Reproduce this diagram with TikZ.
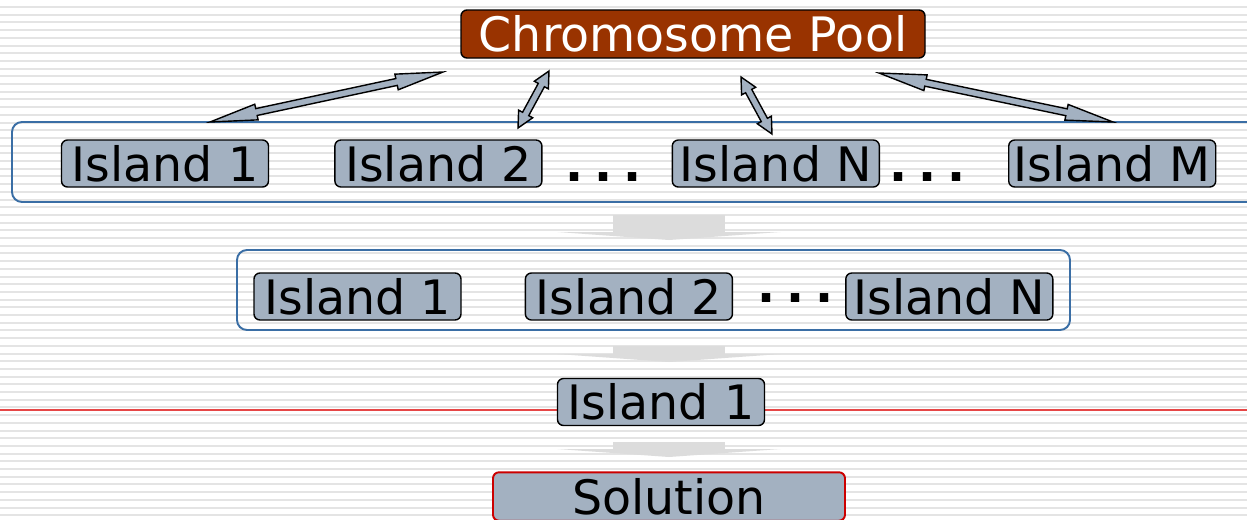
\documentclass[tikz,border=0pt]{standalone}
\usepackage{fontspec}
\setmainfont{DejaVu Sans}
\usetikzlibrary{arrows.meta,positioning,calc}

\definecolor{poolbrown}{RGB}{153,51,0}
\definecolor{islandgray}{RGB}{163,177,193}
\definecolor{frameblue}{RGB}{58,110,165}
\definecolor{solred}{RGB}{204,0,0}
\definecolor{stripegray}{RGB}{228,228,228}
\definecolor{flowgray}{RGB}{220,220,220}
\definecolor{guidered}{RGB}{230,70,70}

% block double arrow from #1 to #2, head length #3
\newcommand{\migrate}[3]{%
  \path (#1) coordinate (ma) (#2) coordinate (mb);
  \path ($(ma)!#3!(mb)$) coordinate (m1) ($(mb)!#3!(ma)$) coordinate (m2);
  \draw[migr] (ma) -- ($(m1)!0.16cm!90:(mb)$) -- ($(m1)!0.07cm!90:(mb)$)
    -- ($(m2)!0.07cm!-90:(ma)$) -- ($(m2)!0.16cm!-90:(ma)$) -- (mb)
    -- ($(m2)!0.16cm!90:(ma)$) -- ($(m2)!0.07cm!90:(ma)$)
    -- ($(m1)!0.07cm!-90:(mb)$) -- ($(m1)!0.16cm!-90:(mb)$) -- cycle;
}

\begin{document}
\begin{tikzpicture}[
  font=\fontsize{27}{32}\selectfont,
  island/.style={rectangle, rounded corners=0.12cm, draw=black, line width=0.8pt, fill=islandgray, inner sep=0.04cm, minimum width=4.14cm, minimum height=0.94cm},
  poolbox/.style={rectangle, rounded corners=0.12cm, draw=black, line width=0.8pt, fill=poolbrown, text=white, inner sep=0.04cm, minimum width=9.28cm, minimum height=0.96cm},
  frame/.style={rectangle, rounded corners=0.2cm, draw=frameblue, line width=1.1pt, minimum height=1.6cm},
  solbox/.style={rectangle, rounded corners=0.12cm, draw=solred, line width=1.1pt, fill=islandgray, minimum width=7.04cm, minimum height=0.94cm},
  dotstext/.style={inner sep=0pt, anchor=base, font=\fontsize{27}{32}\selectfont\bfseries},
  migr/.style={draw=black, line width=0.8pt, fill=islandgray, line join=miter},
  flow/.style={flowgray, line width=2.24cm, -{Triangle[width=4.46cm 0 1, length=0.16cm 0 1, line width=0pt]}}
]
\clip (0,0) rectangle (24.94,-10.38);
\fill[white] (0,0) rectangle (24.94,-10.38);
\foreach \k in {0,...,67}
  \fill[stripegray] (0,{-0.12-0.154*\k}) rectangle (24.94,{-0.16-0.154*\k});
\draw[guidered, line width=1.2pt] (0,-8.2) -- (24.94,-8.2);

% frames
\node[frame, minimum width=25.2cm] (frame1) at (12.84,-3.24) {};
\node[frame, minimum width=16.66cm] (frame2) at (13.07,-5.8) {};

% flow between stages
\coordinate (f1s) at (13.38,-4.30);
\coordinate (f1e) at (13.38,-4.80);
\coordinate (f2s) at (13.38,-6.92);
\coordinate (f2e) at (13.38,-7.24);
\coordinate (f3s) at (13.38,-8.84);
\coordinate (f3e) at (13.38,-9.14);
\draw[flow] (f1s) -- (f1e);
\draw[flow] (f2s) -- (f2e);
\draw[flow] (f3s) -- (f3e);

% first stage
\node[island] (isl1) at (3.3,-3.27) {Island 1};
\node[island, right=1.3cm of isl1] (isl2) {Island 2};
\node[island, right=2.58cm of isl2] (islN) {Island N};
\node[island, right=2.56cm of islN] (islM) {Island M};
\node[dotstext] (dots1) at (12.07,0 |- isl2.base) {.\kern0.21cm.\kern0.21cm.};
\node[dotstext] (dots2) at (18.55,0 |- isl2.base) {.\kern0.21cm.\kern0.21cm.};

% second stage
\node[island] (sec1) at (7.15,-5.93) {Island 1};
\node[island, right=1.26cm of sec1] (sec2) {Island 2};
\node[island, right=2.24cm of sec2] (secN) {Island N};
\node[dotstext] (dots3) at (15.91,0 |- sec2.base) {·\kern0.21cm·\kern0.21cm·};

% last stage
\node[island] (last) at (13.22,-8.04) {Island 1};
\node[solbox] (sol) at (13.38,-9.93) {Solution};

% pool and migration
\node[poolbox] (pool) at (13.86,-0.68) {Chromosome Pool};
\coordinate (a1) at (4.2,-2.44);   \coordinate (b1) at (8.86,-1.44);
\coordinate (a2) at (10.36,-2.56); \coordinate (b2) at (10.98,-1.42);
\coordinate (a3) at (15.44,-2.68); \coordinate (b3) at (14.82,-1.54);
\coordinate (a4) at (22.26,-2.44); \coordinate (b4) at (17.58,-1.46);
\migrate{a1}{b1}{0.95cm}
\migrate{a2}{b2}{0.32cm}
\migrate{a3}{b3}{0.32cm}
\migrate{a4}{b4}{0.95cm}

\end{tikzpicture}
\end{document}
